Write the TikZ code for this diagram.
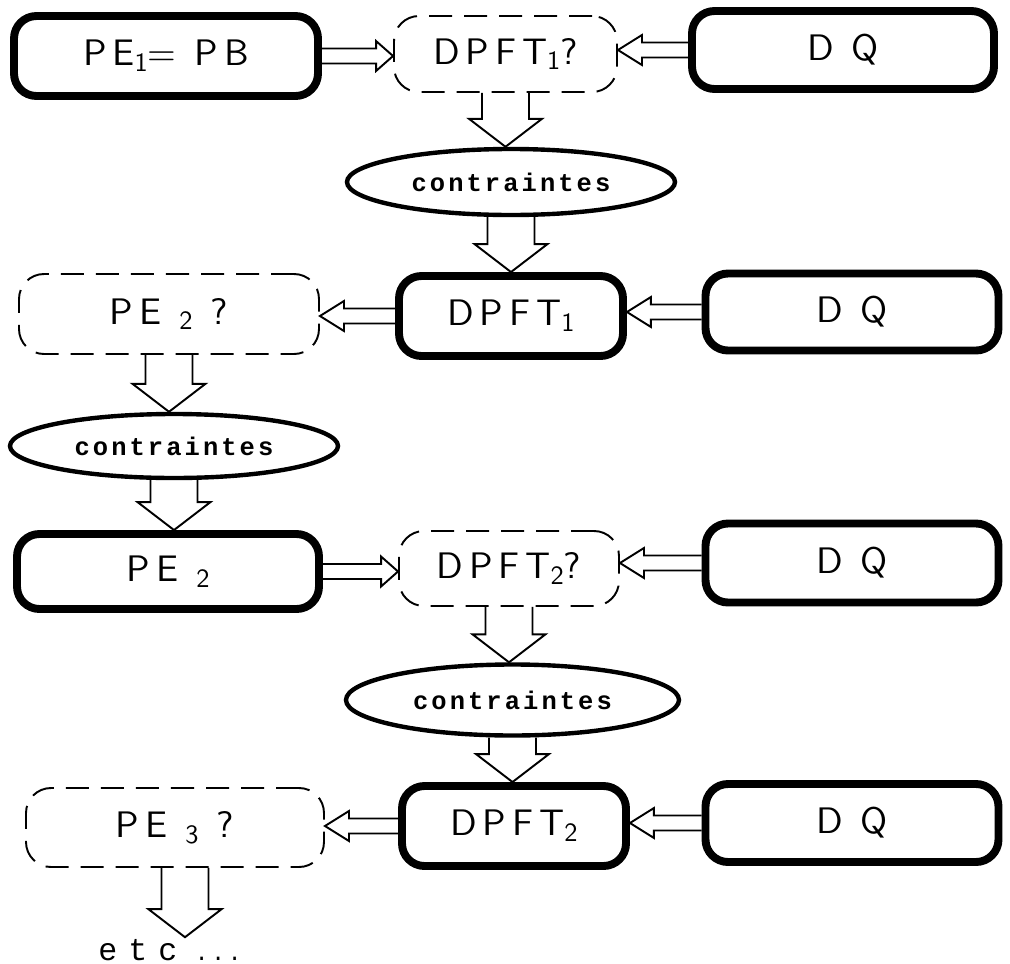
\documentclass[tikz,border=0pt]{standalone}
\usepackage{fontspec}
\usetikzlibrary{shapes.geometric,calc}
\newfontfamily\machine[LetterSpace=12]{Liberation Mono}
\newfontfamily\machinefine[LetterSpace=35]{Liberation Mono}
\newfontfamily\lettres[LetterSpace=16]{lmsans10-regular.otf}
\newcommand{\lettrage}{\lettres\fontsize{21}{25}\selectfont}
\newcommand{\ind}[1]{\raisebox{-0.35ex}{\fontsize{15}{15}\selectfont #1}}
% fleche creuse : depart, pointe, demi-tige, demi-tete, longueur de tete
\newcommand{\fleche}[5]{%
  \coordinate (fA) at (#1);
  \coordinate (fB) at (#2);
  \coordinate (fH) at ($(fB)!#5!(fA)$);
  \draw[trait] ($(fA)!#3!90:(fB)$) -- ($(fH)!#3!-90:(fA)$) -- ($(fH)!#4!-90:(fA)$) -- (fB)
    -- ($(fH)!#4!90:(fA)$) -- ($(fH)!#3!90:(fA)$) -- ($(fA)!#3!-90:(fB)$);
}
\newcommand{\flechebas}[2]{\fleche{#1}{#2}{0.47cm}{0.73cm}{0.56cm}}
\newcommand{\flechehor}[3]{\fleche{#1}{#2}{0.15cm}{0.3cm}{#3}}
\tikzset{
  trait/.style={line width=1.1pt, line join=miter},
  boite/.style={draw, line width=4.5pt, rounded corners=0.45cm, inner sep=0pt, font=\lettrage},
  boiteq/.style={draw, line width=1.1pt, dash pattern=on 0.46cm off 0.24cm, rounded corners=0.5cm, inner sep=0pt, font=\lettrage},
  contr/.style={ellipse, draw, line width=2.5pt, inner sep=0pt, font=\machine\bfseries\fontsize{14.5}{16}\selectfont},
}
\begin{document}
\begin{tikzpicture}
  \useasboundingbox (0,0) rectangle (20.2,-19.28);

  % premiere ligne
  \node[boite, minimum width=6.08cm, minimum height=1.6cm] (pe1) at (3.32,-1.12) {PE\ind{1}= PB};
  \node[boiteq, minimum width=4.46cm, minimum height=1.52cm] (dpftq1) at (10.11,-1.08) {DPFT\ind{1}?};
  \node[boite, minimum width=6.04cm, minimum height=1.56cm] (dq1) at (16.86,-1.0) {D Q};
  \node[contr, minimum width=6.56cm, minimum height=1.32cm] (ell1) at (10.22,-3.64) {contraintes};
  \flechehor{pe1.east}{dpftq1.west |- pe1.east}{0.34cm}
  \flechehor{dq1.west}{dpftq1.east |- dq1.west}{0.48cm}
  \flechebas{dpftq1.south}{dpftq1.south |- ell1.north}

  % deuxieme ligne
  \node[boite, minimum width=4.48cm, minimum height=1.6cm] (dpft1) at (10.22,-6.32) {DPFT\ind{1}};
  \node[boiteq, minimum width=6.0cm, minimum height=1.6cm] (pe2q) at (3.38,-6.28) {PE \ind{2} ?};
  \node[boite, minimum width=5.86cm, minimum height=1.54cm] (dq2) at (17.04,-6.24) {D Q};
  \node[contr, minimum width=6.56cm, minimum height=1.28cm] (ell2) at (3.48,-8.92) {contraintes};
  \flechebas{ell1.south}{ell1.south |- dpft1.north}
  \flechehor{dq2.west}{dpft1.east |- dq2.west}{0.48cm}
  \flechehor{dpft1.west}{pe2q.east |- dpft1.west}{0.48cm}
  \flechebas{pe2q.south}{pe2q.south |- ell2.north}

  % troisieme ligne
  \node[boite, minimum width=6.04cm, minimum height=1.5cm] (pe2) at (3.36,-11.43) {PE \ind{2}};
  \node[boiteq, minimum width=4.4cm, minimum height=1.5cm] (dpftq2) at (10.18,-11.37) {DPFT\ind{2}?};
  \node[boite, minimum width=5.86cm, minimum height=1.58cm] (dq3) at (17.04,-11.26) {D Q};
  \node[contr, minimum width=6.66cm, minimum height=1.42cm] (ell3) at (10.25,-14.0) {contraintes};
  \flechebas{ell2.south}{ell2.south |- pe2.north}
  \flechehor{pe2.east}{dpftq2.west |- pe2.east}{0.34cm}
  \flechehor{dq3.west}{dpftq2.east |- dq3.west}{0.48cm}
  \flechebas{dpftq2.south}{dpftq2.south |- ell3.north}

  % quatrieme ligne
  \node[boite, minimum width=4.48cm, minimum height=1.6cm] (dpft2) at (10.28,-16.52) {DPFT\ind{2}};
  \node[boiteq, minimum width=5.96cm, minimum height=1.58cm] (pe3q) at (3.5,-16.55) {PE \ind{3} ?};
  \node[boite, minimum width=5.86cm, minimum height=1.56cm] (dq4) at (17.04,-16.46) {D Q};
  \node[inner sep=1pt] (etc) at (3.4,-19.0) {{\machinefine\fontsize{18}{20}\selectfont etc}\hspace{0.35cm}{\machine\fontsize{13}{20}\selectfont ...}};
  \flechebas{ell3.south}{ell3.south |- dpft2.north}
  \flechehor{dq4.west}{dpft2.east |- dq4.west}{0.48cm}
  \flechehor{dpft2.west}{pe3q.east |- dpft2.west}{0.48cm}
  \flechebas{[xshift=0.2cm]pe3q.south}{[xshift=0.2cm]pe3q.south |- etc.north}
\end{tikzpicture}
\end{document}
